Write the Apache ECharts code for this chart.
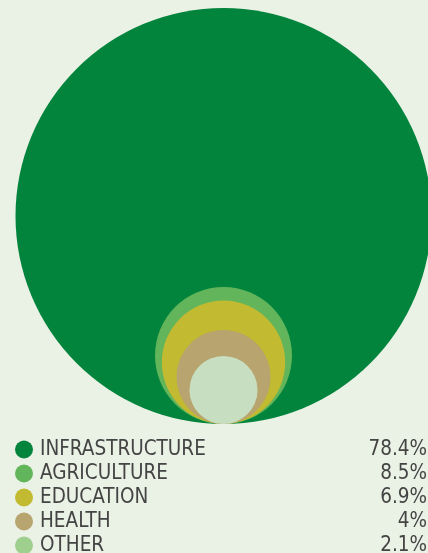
<!DOCTYPE html>
<html>
<head>
<meta charset="utf-8">
<script src="https://cdn.jsdelivr.net/npm/echarts@6/dist/echarts.min.js"></script>
<style>
  html, body { margin: 0; padding: 0; background: #eaf1e5; }
  #chart { width: 428px; height: 553px; }
</style>
</head>
<body>
<div id="chart"></div>
<script>
// shares of spending, in percent
var categories = ['INFRASTRUCTURE', 'AGRICULTURE', 'EDUCATION', 'HEALTH', 'OTHER'];
var shares = [78.4, 8.5, 6.9, 4, 2.1];
var shareLabels = ['78.4%', '8.5%', '6.9%', '4%', '2.1%'];
var circleColors = ['#02843c', '#62b55a', '#c2ba30', '#b8a46e', '#c7dfc0'];
var dotColors = ['#02843c', '#62b55a', '#c2ba30', '#b8a46e', '#9fcf8f'];

var chart = echarts.init(document.getElementById('chart'));

// circles share a bottom point, radius ~ sqrt(share) so area ~ share
var maxR = Math.sqrt(Math.max.apply(null, shares));

function renderCircle (params, api) {
  var r = api.value(1);
  var c = api.coord([0, r]);
  var size = api.size([0, r]);
  return {
    type: 'circle',
    shape: { cx: c[0], cy: c[1], r: size[1] },
    style: { fill: api.visual('color') }
  };
}

var series = categories.map(function (name, i) {
  return {
    name: name,
    type: 'custom',
    renderItem: renderCircle,
    itemStyle: { color: circleColors[i] },
    data: [[0, Math.sqrt(shares[i])]],
    silent: true,
    z: 2 + i
  };
});

var font = '"DejaVu Sans Condensed", "DejaVu Sans", sans-serif';

chart.setOption({
  backgroundColor: '#eaf1e5',
  animation: false,
  grid: { left: 19, top: 8, width: 416, height: 416 },
  xAxis: { type: 'value', min: -maxR, max: maxR, show: false },
  yAxis: { type: 'value', min: 0, max: 2 * maxR, show: false },
  legend: {
    orient: 'vertical',
    left: 15,
    top: 439,
    width: 420,
    height: 150,
    padding: 0,
    icon: 'circle',
    itemWidth: 18,
    itemHeight: 18,
    itemGap: 3,
    selectedMode: false,
    data: categories.map(function (name, i) {
      return { name: name, itemStyle: { color: dotColors[i] } };
    }),
    formatter: function (name) {
      var i = categories.indexOf(name);
      return '{n|' + name + '}{v|' + shareLabels[i] + '}';
    },
    textStyle: {
      color: '#444',
      fontFamily: font,
      fontSize: 20.5,
      rich: {
        n: { width: 319, fontSize: 20.5, color: '#444', fontFamily: font, padding: [0, 0, 0, 2] },
        v: { width: 68, align: 'right', fontSize: 20.5, color: '#444', fontFamily: font }
      }
    }
  },
  series: series
});
</script>
</body>
</html>
